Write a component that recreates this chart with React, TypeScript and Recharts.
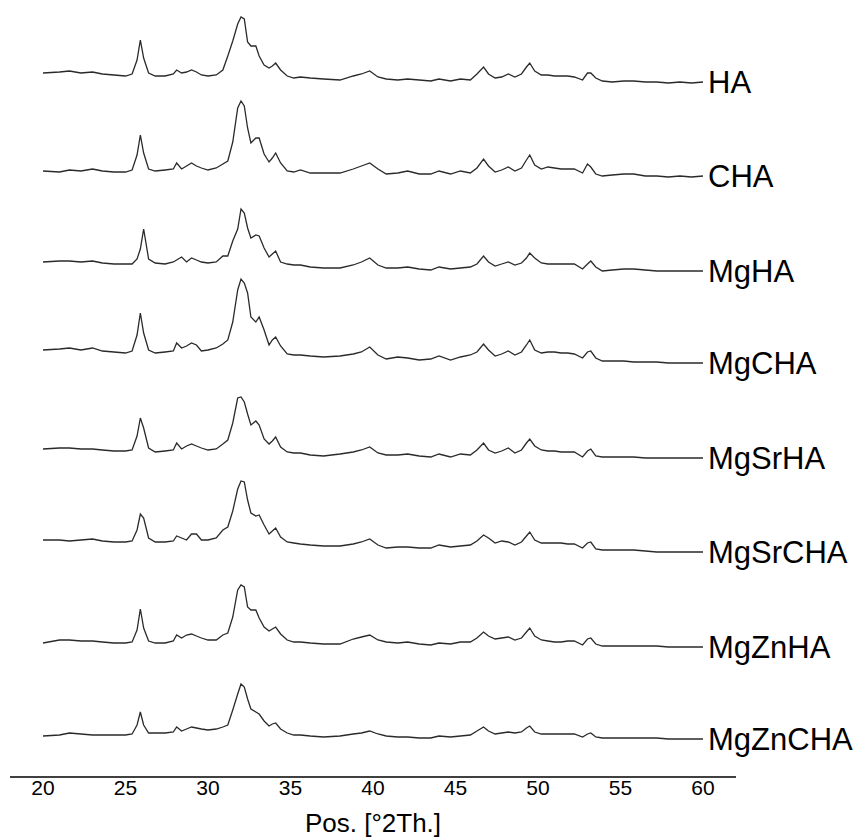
import { LineChart, Line, XAxis, YAxis, LabelList, Label } from 'recharts';

const FONT = '"Liberation Sans", Arial, Helvetica, sans-serif';

// 2theta positions (degrees) shared by every pattern
const twoTheta = [
  20, 21, 21.6, 22.3, 23, 23.6, 24.3, 25, 25.4, 25.7,
  25.9, 26.1, 26.4, 26.8, 27.4, 27.9, 28.1, 28.4, 28.7, 29.0,
  29.3, 29.6, 30.0, 30.5, 30.9, 31.2, 31.5, 31.8, 32.0, 32.2,
  32.4, 32.6, 32.9, 33.1, 33.4, 33.7, 33.9, 34.1, 34.4, 34.8,
  35.2, 35.6, 36.2, 37, 38, 38.8, 39.3, 39.8, 40.3, 40.8,
  41.5, 42.1, 42.8, 43.5, 44, 44.7, 45.3, 45.9, 46.3, 46.7,
  47.0, 47.4, 47.8, 48.2, 48.6, 49.0, 49.3, 49.5, 49.8, 50.2,
  50.6, 51, 51.4, 51.8, 52.2, 52.7, 53.0, 53.2, 53.5, 53.9,
  54.5, 55.2, 55.8, 56.5, 57.2, 57.9, 58.6, 59.3, 60,
];

// intensities (a.u.), relative to each pattern's baseline at 60°
const haCounts = [
  9, 10, 11, 9, 10, 8, 7, 6, 8, 22,
  42, 24, 9, 6, 6, 8, 12, 9, 10, 12,
  10, 7, 6, 7, 12, 26, 41, 58, 65, 63,
  40, 36, 36, 26, 17, 14, 16, 19, 12, 6,
  4, 5, 4, 3, 2, 6, 8, 11, 5, 3,
  2, 3, 2, 1, 3, 1, 3, 2, 8, 15,
  8, 4, 5, 8, 5, 8, 15, 19, 11, 7,
  7, 6, 6, 6, 5, 2, 9, 9, 4, 1,
  0, 1, 1, 0, 0, -1, 0, -1, 0,
];
const chaCounts = [
  5, 4, 6, 5, 7, 5, 4, 4, 6, 21,
  41, 23, 7, 5, 6, 7, 13, 7, 10, 13,
  10, 8, 6, 8, 12, 15, 34, 68, 75, 70,
  48, 33, 38, 38, 22, 14, 18, 23, 13, 5,
  4, 6, 3, 3, 3, 7, 10, 13, 7, 2,
  3, 5, 2, 2, 5, 2, 5, 3, 8, 17,
  10, 4, 6, 9, 5, 8, 16, 21, 11, 7,
  9, 8, 7, 7, 7, 3, 12, 9, 2, 0,
  1, 2, 2, 0, 0, -1, 0, -1, 0,
];
const mgHaCounts = [
  9, 10, 10, 9, 10, 8, 7, 7, 7, 12,
  22, 42, 12, 8, 7, 9, 11, 14, 9, 13,
  11, 9, 8, 9, 15, 15, 30, 42, 62, 58,
  43, 33, 36, 35, 23, 14, 17, 20, 9, 7,
  6, 6, 4, 3, 3, 6, 9, 13, 6, 3,
  3, 4, 2, 1, 4, 2, 3, 4, 7, 15,
  9, 5, 7, 9, 6, 8, 13, 18, 13, 8,
  7, 7, 7, 7, 7, 2, 7, 10, 4, 0,
  1, 2, 2, 1, 0, 0, 0, 0, 0,
];
const mgChaCounts = [
  13, 14, 15, 13, 15, 12, 11, 10, 12, 28,
  50, 30, 13, 10, 11, 12, 20, 15, 17, 20,
  18, 12, 13, 15, 19, 23, 41, 73, 84, 80,
  70, 46, 41, 46, 33, 18, 23, 26, 17, 9,
  8, 8, 7, 6, 7, 9, 11, 16, 8, 4,
  6, 5, 3, 4, 7, 3, 6, 8, 11, 19,
  13, 7, 9, 12, 8, 11, 18, 23, 13, 10,
  11, 11, 10, 10, 9, 5, 11, 12, 5, 2,
  2, 2, 1, 1, 1, 0, 0, 0, 0,
];
const mgSrHaCounts = [
  9, 10, 10, 9, 9, 8, 7, 7, 8, 22,
  40, 30, 10, 6, 7, 8, 15, 9, 12, 14,
  12, 10, 8, 9, 14, 18, 35, 60, 61, 56,
  44, 33, 37, 33, 19, 14, 17, 21, 11, 6,
  5, 5, 3, 2, 4, 6, 8, 11, 5, 3,
  3, 4, 2, 1, 4, 1, 4, 3, 8, 15,
  8, 5, 7, 10, 5, 8, 15, 19, 12, 8,
  7, 7, 6, 6, 6, 1, 7, 9, 2, 1,
  1, 1, 1, 0, 0, 0, 0, 0, 0,
];
const mgSrChaCounts = [
  12, 12, 11, 12, 13, 11, 10, 10, 11, 22,
  38, 34, 14, 10, 10, 11, 16, 14, 12, 18,
  18, 12, 12, 14, 22, 25, 41, 63, 71, 70,
  52, 39, 36, 37, 27, 18, 21, 24, 15, 10,
  9, 8, 7, 6, 6, 8, 10, 13, 7, 4,
  5, 5, 4, 4, 7, 5, 6, 7, 11, 17,
  14, 9, 11, 10, 7, 10, 16, 20, 12, 9,
  9, 9, 9, 8, 8, 4, 9, 10, 3, 2,
  2, 2, 2, 1, 0, 0, 0, 0, 0,
];
const mgZnHaCounts = [
  4, 7, 7, 6, 6, 5, 4, 4, 5, 17,
  38, 19, 6, 4, 4, 6, 12, 9, 12, 13,
  11, 9, 7, 7, 12, 14, 30, 57, 62, 60,
  40, 37, 37, 29, 20, 16, 18, 20, 13, 7,
  5, 5, 4, 3, 3, 8, 10, 12, 7, 5,
  4, 5, 3, 2, 4, 3, 5, 5, 9, 15,
  11, 8, 9, 10, 7, 9, 15, 19, 11, 7,
  6, 5, 5, 6, 6, 2, 8, 9, 3, 1,
  1, 1, 1, 1, 1, 0, 0, 0, 0,
];
const mgZnChaCounts = [
  3, 4, 6, 5, 4, 4, 4, 4, 5, 14,
  27, 14, 6, 6, 6, 7, 12, 8, 10, 12,
  11, 10, 9, 10, 12, 14, 29, 45, 55, 52,
  40, 30, 27, 25, 18, 13, 15, 16, 10, 6,
  4, 4, 3, 2, 3, 5, 6, 8, 5, 3,
  2, 2, 1, 1, 3, 2, 3, 4, 8, 12,
  8, 5, 6, 7, 6, 7, 11, 13, 7, 5,
  5, 5, 5, 5, 5, 2, 5, 6, 2, 1,
  1, 1, 1, 1, 1, 0, 0, 0, 0,
];

const sampleNames = ['HA', 'CHA', 'MgHA', 'MgCHA', 'MgSrHA', 'MgSrCHA', 'MgZnHA', 'MgZnCHA'];
const sampleCounts = [
  haCounts, chaCounts, mgHaCounts, mgChaCounts,
  mgSrHaCounts, mgSrChaCounts, mgZnHaCounts, mgZnChaCounts,
];
// vertical stacking offset of each pattern (a.u.)
const stackOffsets = [695, 601, 506, 414, 319, 225, 130, 38];

const xTicks = [20, 25, 30, 35, 40, 45, 50, 55, 60];

const rows = twoTheta.map((x, i) => {
  const row: Record<string, number> = { x };
  sampleNames.forEach((name, s) => {
    row[name] = stackOffsets[s] + sampleCounts[s][i];
  });
  return row;
});

const endLabel = (name: string) => (props: any) => {
  const { x, y, index } = props;
  if (index !== twoTheta.length - 1) return null;
  return (
    <text x={x + 5} y={y} dy={11} fontSize={31} fontFamily={FONT} fill="#000">
      {name}
    </text>
  );
};

const axisTitle = (props: any) => {
  const { viewBox } = props;
  return (
    <text
      x={viewBox.x + viewBox.width / 2}
      y={viewBox.y + 55}
      textAnchor="middle"
      fontSize={26}
      fontFamily={FONT}
      fill="#000"
    >
      Pos. [°2Th.]
    </text>
  );
};

export default function App() {
  return (
    <div style={{ position: 'absolute', left: 0, top: 0, width: 858, height: 839, background: '#fff' }}>
      <LineChart width={858} height={839} data={rows} margin={{ top: 0, right: 122, bottom: 0, left: 10 }}>
        <XAxis
          dataKey="x"
          type="number"
          domain={[18, 62]}
          ticks={xTicks}
          interval={0}
          height={62}
          tickLine={false}
          tickSize={0}
          tickMargin={3}
          axisLine={{ stroke: '#000', strokeWidth: 1.3 }}
          tick={{ fill: '#000', fontSize: 21, fontFamily: FONT }}
        >
          <Label content={axisTitle} />
        </XAxis>
        <YAxis type="number" domain={[0, 777]} hide />
        {sampleNames.map((name) => (
          <Line
            key={name}
            dataKey={name}
            type="linear"
            stroke="#2a2a2a"
            strokeWidth={1.3}
            dot={false}
            activeDot={false}
            isAnimationActive={false}
          >
            <LabelList dataKey={name} content={endLabel(name)} />
          </Line>
        ))}
      </LineChart>
    </div>
  );
}
